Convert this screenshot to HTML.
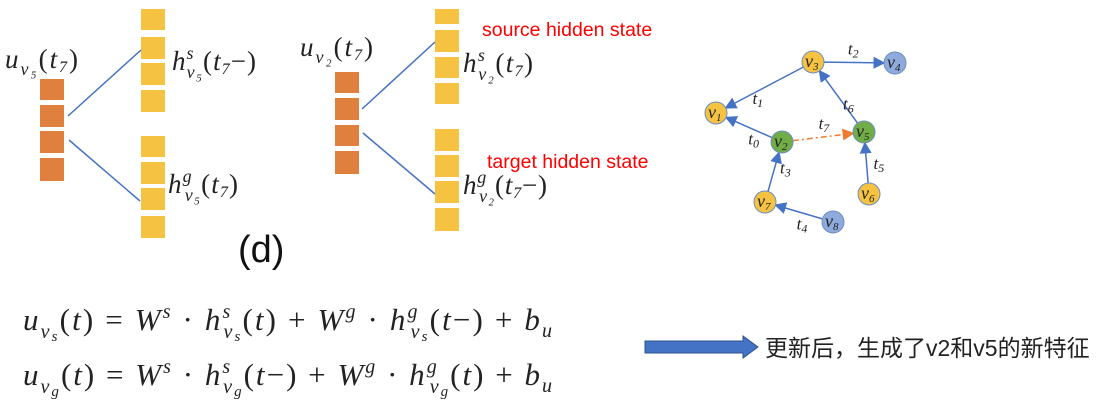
<!DOCTYPE html>
<html><head><meta charset="utf-8"><style>
body{margin:0;background:#fff}
svg{display:block}
.m{font-family:"Liberation Serif",serif;font-style:italic;fill:#222}
.r{font-family:"Liberation Sans",sans-serif;fill:#f00;font-size:19.5px}
</style></head><body>
<svg width="1111" height="412" viewBox="0 0 1111 412">
<g>
<g fill="#e0803e">
<rect x="40" y="79" width="24" height="21"/><rect x="40" y="105" width="24" height="22"/><rect x="40" y="131" width="24" height="22"/><rect x="40" y="158" width="24" height="23"/></g>
<g fill="#f5c242">
<rect x="141" y="9" width="24" height="21"/><rect x="141" y="37" width="24" height="22"/><rect x="141" y="63" width="24" height="22"/><rect x="141" y="90" width="24" height="22"/>
<rect x="141" y="136" width="24" height="21"/><rect x="141" y="162" width="24" height="22"/><rect x="141" y="188" width="24" height="22"/><rect x="141" y="216" width="24" height="22"/></g>
<line x1="68" y1="116" x2="141" y2="50" stroke="#4472c4" stroke-width="1.5"/>
<line x1="69" y1="140" x2="140" y2="201" stroke="#4472c4" stroke-width="1.5"/>
<text class="m" x="5" y="68" font-size="27" textLength="73" lengthAdjust="spacing">u<tspan font-size="18" dy="7">v₅</tspan><tspan dy="-7" font-style="normal">(</tspan>t<tspan font-size="16" dy="4">7</tspan><tspan dy="-4" font-style="normal">)</tspan></text>
<text class="m" x="172" y="70" font-size="27" textLength="84" lengthAdjust="spacing">h<tspan font-size="18" dy="-11">s</tspan><tspan font-size="18" dx="-8" dy="19">v₅</tspan><tspan dy="-8" font-style="normal">(</tspan>t<tspan font-size="16" dy="4">7</tspan><tspan dy="-4" font-style="normal">−)</tspan></text>
<text class="m" x="168" y="193" font-size="27" textLength="70" lengthAdjust="spacing">h<tspan font-size="18" dy="-11">g</tspan><tspan font-size="18" dx="-8" dy="19">v₅</tspan><tspan dy="-8" font-style="normal">(</tspan>t<tspan font-size="16" dy="4">7</tspan><tspan dy="-4" font-style="normal">)</tspan></text>
</g>
<g>
<g fill="#e0803e">
<rect x="335" y="72" width="24" height="21"/><rect x="335" y="98" width="24" height="22"/><rect x="335" y="125" width="24" height="21"/><rect x="335" y="151" width="24" height="23"/></g>
<g fill="#f5c242">
<rect x="435" y="9" width="24" height="15"/><rect x="435" y="30" width="24" height="22"/><rect x="435" y="57" width="24" height="21"/><rect x="435" y="83" width="24" height="21"/>
<rect x="435" y="129" width="24" height="22"/><rect x="435" y="155" width="24" height="22"/><rect x="435" y="181" width="24" height="22"/><rect x="435" y="208" width="24" height="23"/></g>
<line x1="362" y1="109" x2="435" y2="42" stroke="#4472c4" stroke-width="1.5"/>
<line x1="363" y1="133" x2="435" y2="194" stroke="#4472c4" stroke-width="1.5"/>
<text class="m" x="300" y="56" font-size="27" textLength="73" lengthAdjust="spacing">u<tspan font-size="18" dy="7">v₂</tspan><tspan dy="-7" font-style="normal">(</tspan>t<tspan font-size="16" dy="4">7</tspan><tspan dy="-4" font-style="normal">)</tspan></text>
<text class="m" x="463" y="72" font-size="27" textLength="70" lengthAdjust="spacing">h<tspan font-size="18" dy="-11">s</tspan><tspan font-size="18" dx="-8" dy="19">v₂</tspan><tspan dy="-8" font-style="normal">(</tspan>t<tspan font-size="16" dy="4">7</tspan><tspan dy="-4" font-style="normal">)</tspan></text>
<text class="m" x="463" y="194" font-size="27" textLength="84" lengthAdjust="spacing">h<tspan font-size="18" dy="-11">g</tspan><tspan font-size="18" dx="-8" dy="19">v₂</tspan><tspan dy="-8" font-style="normal">(</tspan>t<tspan font-size="16" dy="4">7</tspan><tspan dy="-4" font-style="normal">−)</tspan></text>
<text class="r" x="482" y="36">source hidden state</text>
<text class="r" x="487" y="168">target hidden state</text>
</g>
<text x="238" y="262" font-family="Liberation Sans,sans-serif" font-size="38" fill="#111">(d)</text>
<g id="graph"></g>
<text class="m" x="23" y="330" font-size="31" textLength="529" lengthAdjust="spacing">u<tspan font-size="20" dy="8">v<tspan font-size="15" dy="3">s</tspan></tspan><tspan dy="-11" font-style="normal">(</tspan>t<tspan font-style="normal">) = </tspan>W<tspan font-size="20" dy="-12">s</tspan><tspan dy="12" font-style="normal"> · </tspan>h<tspan font-size="20" dy="-12">s</tspan><tspan font-size="20" dx="-9" dy="20">v<tspan font-size="15" dy="3">s</tspan></tspan><tspan dy="-11" font-style="normal">(</tspan>t<tspan font-style="normal">) + </tspan>W<tspan font-size="20" dy="-12">g</tspan><tspan dy="12" font-style="normal"> · </tspan>h<tspan font-size="20" dy="-12">g</tspan><tspan font-size="20" dx="-9" dy="20">v<tspan font-size="15" dy="3">s</tspan></tspan><tspan dy="-11" font-style="normal">(</tspan>t<tspan font-style="normal">−) + </tspan>b<tspan font-size="20" dy="7">u</tspan></text>
<text class="m" x="23" y="385" font-size="31" textLength="529" lengthAdjust="spacing">u<tspan font-size="20" dy="8">v<tspan font-size="15" dy="3">g</tspan></tspan><tspan dy="-11" font-style="normal">(</tspan>t<tspan font-style="normal">) = </tspan>W<tspan font-size="20" dy="-12">s</tspan><tspan dy="12" font-style="normal"> · </tspan>h<tspan font-size="20" dy="-12">s</tspan><tspan font-size="20" dx="-9" dy="20">v<tspan font-size="15" dy="3">g</tspan></tspan><tspan dy="-11" font-style="normal">(</tspan>t<tspan font-style="normal">−) + </tspan>W<tspan font-size="20" dy="-12">g</tspan><tspan dy="12" font-style="normal"> · </tspan>h<tspan font-size="20" dy="-12">g</tspan><tspan font-size="20" dx="-9" dy="20">v<tspan font-size="15" dy="3">g</tspan></tspan><tspan dy="-11" font-style="normal">(</tspan>t<tspan font-style="normal">) + </tspan>b<tspan font-size="20" dy="7">u</tspan></text>
<polygon points="645,341 743,341 743,336 758,347 743,358 743,353 645,353" fill="#4472c4" stroke="#2f528f" stroke-width="1"/>
<text x="765" y="356" font-family="Liberation Sans,'Noto Sans CJK SC',sans-serif" font-size="23" fill="#222">更新后，生成了v2和v5的新特征</text>
</svg>
<script>
const nodeNames=['v1','v2','v3','v4','v5','v6','v7','v8'];
const nodeX=[716,782,813,895,864,869,765,833];
const nodeY=[113,142,62,63,132,194,202,222];
const nodeColors=['#f5c242','#70ad47','#f5c242','#8faadc','#70ad47','#f5c242','#f5c242','#8faadc'];
const edgeFrom=[1,2,2,6,7,5,4,1];
const edgeTo=[0,0,3,1,6,4,2,4];
const edgeLabels=['t0','t1','t2','t3','t4','t5','t6','t7'];
const NS='http://www.w3.org/2000/svg';
const g=document.getElementById('graph');
const defs=document.createElementNS(NS,'defs');
defs.innerHTML='<marker id="ab" markerWidth="8" markerHeight="8" refX="7" refY="4" orient="auto"><path d="M0,0L8,4L0,8z" fill="#4472c4"/></marker><marker id="ao" markerWidth="8" markerHeight="8" refX="7" refY="4" orient="auto"><path d="M0,0L8,4L0,8z" fill="#ed7d31"/></marker>';
g.appendChild(defs);
const R=11;
edgeFrom.forEach((f,i)=>{
 const t=edgeTo[i];
 const dx=nodeX[t]-nodeX[f],dy=nodeY[t]-nodeY[f],d=Math.hypot(dx,dy);
 const ux=dx/d,uy=dy/d;
 const l=document.createElementNS(NS,'line');
 l.setAttribute('x1',nodeX[f]+ux*R);l.setAttribute('y1',nodeY[f]+uy*R);
 l.setAttribute('x2',nodeX[t]-ux*R);l.setAttribute('y2',nodeY[t]-uy*R);
 const dashed=edgeLabels[i]==='t7';
 l.setAttribute('stroke',dashed?'#ed7d31':'#4472c4');
 l.setAttribute('stroke-width','1.5');
 if(dashed)l.setAttribute('stroke-dasharray','6 3 2 3');
 l.setAttribute('marker-end',dashed?'url(#ao)':'url(#ab)');
 
 
 g.appendChild(l);
 const tx=document.createElementNS(NS,'text');
 const mx=(nodeX[f]+nodeX[t])/2,my=(nodeY[f]+nodeY[t])/2;
 tx.setAttribute('x',mx-uy*13-6);tx.setAttribute('y',my-ux*13+5);
 tx.setAttribute('font-family','Liberation Serif,serif');tx.setAttribute('font-style','italic');
 tx.setAttribute('font-size','17');tx.setAttribute('fill','#222');
 tx.innerHTML='t<tspan font-size="12" dy="3">'+edgeLabels[i].slice(1)+'</tspan>';
 
 
 g.appendChild(tx);
});
nodeNames.forEach((n,i)=>{
 const c=document.createElementNS(NS,'circle');
 c.setAttribute('cx',nodeX[i]);c.setAttribute('cy',nodeY[i]);c.setAttribute('r',R);
 c.setAttribute('fill',nodeColors[i]);c.setAttribute('stroke','#6c8ebf');c.setAttribute('stroke-width','1');
 
 
 g.appendChild(c);
 const t=document.createElementNS(NS,'text');
 t.setAttribute('x',nodeX[i]-8);t.setAttribute('y',nodeY[i]+5);
 t.setAttribute('font-family','Liberation Serif,serif');t.setAttribute('font-style','italic');
 t.setAttribute('font-size','18');t.setAttribute('fill','#222');
 t.innerHTML='v<tspan font-size="11" dy="3">'+n.slice(1)+'</tspan>';
 
 
 g.appendChild(t);
});
</script>
</body></html>
